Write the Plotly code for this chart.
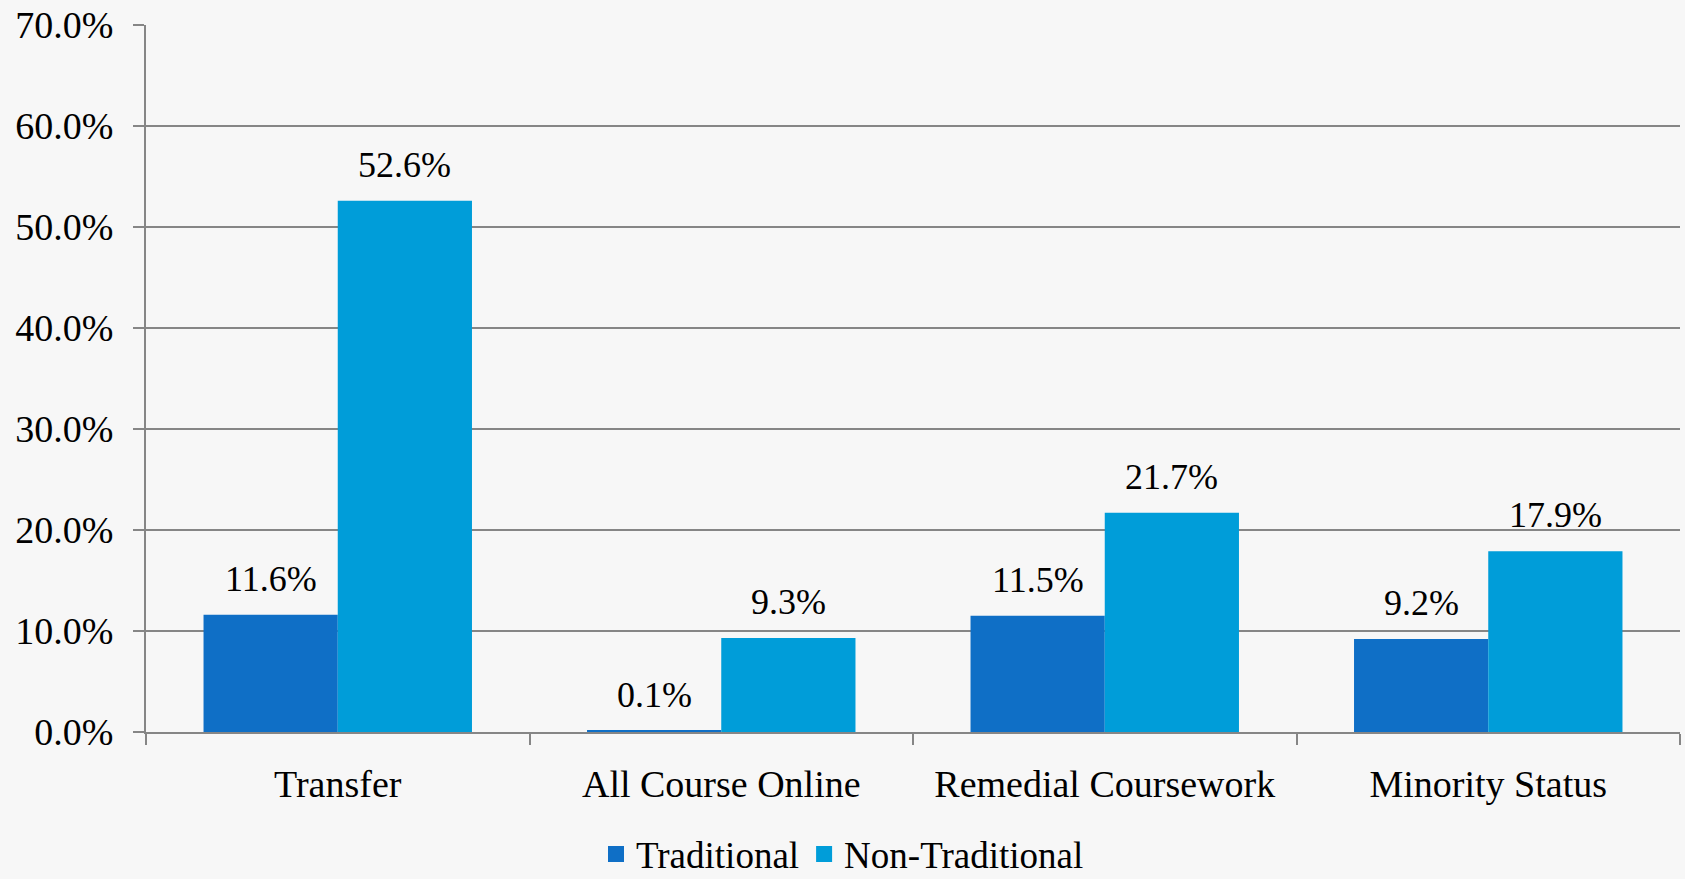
import plotly.graph_objects as go

categories = ["Transfer", "All Course Online", "Remedial Coursework", "Minority Status"]
traditional = [11.6, 0.1, 11.5, 9.2]
non_traditional = [52.6, 9.3, 21.7, 17.9]
y_ticks = [0, 10, 20, 30, 40, 50, 60, 70]
y_tick_labels = ["0.0%", "10.0%", "20.0%", "30.0%", "40.0%", "50.0%", "60.0%", "70.0%"]

FONT = "Liberation Serif"
GRID = "#868686"
C_TRAD = "#0F6FC6"
C_NONTRAD = "#009DD9"

W, H = 1685, 879
L, R, T, B = 146, 5, 25, 147
BARGAP = 0.3

fig = go.Figure()
fig.add_trace(go.Bar(name="Traditional", x=categories, y=traditional,
                     marker=dict(color=C_TRAD, line=dict(width=0)), showlegend=False))
fig.add_trace(go.Bar(name="Non-Traditional", x=categories, y=non_traditional,
                     marker=dict(color=C_NONTRAD, line=dict(width=0)), showlegend=False))

# legend proxies with bigger square swatches
for name, col in [("Traditional", C_TRAD), ("Non-Traditional", C_NONTRAD)]:
    fig.add_trace(go.Scatter(x=[None], y=[None], mode="markers", name=name,
                             marker=dict(symbol="square", size=18, color=col)))

# data labels above each bar
band = (W - L - R) / len(categories)
half_bar = band * (1 - BARGAP) / 4
for vals, sign in [(traditional, -1), (non_traditional, 1)]:
    for c, v in zip(categories, vals):
        fig.add_annotation(x=c, y=v, text=f"{v:.1f}%", showarrow=False,
                           xshift=sign * half_bar, yshift=14, yanchor="bottom",
                           font=dict(family=FONT, size=36, color="black"))

fig.update_layout(
    width=W, height=H,
    barmode="group", bargap=BARGAP, bargroupgap=0,
    paper_bgcolor="#F7F7F7", plot_bgcolor="#F7F7F7",
    font=dict(family=FONT, size=36, color="black"),
    margin=dict(l=L, r=R, t=T, b=B),
    legend=dict(
        orientation="h", xref="container", yref="container",
        x=0.5, xanchor="center", y=0.028, yanchor="middle",
        font=dict(size=37), bgcolor="rgba(0,0,0,0)", tracegroupgap=0,
    ),
)
fig.update_yaxes(
    range=[0, 70], tickvals=y_ticks, ticktext=y_tick_labels,
    tickfont=dict(size=38),
    showgrid=True, gridcolor=GRID, gridwidth=2,
    showline=True, linecolor=GRID, linewidth=2,
    ticks="outside", ticklen=11, tickcolor=GRID, tickwidth=2,
    ticklabelstandoff=12, zeroline=False,
)
fig.update_xaxes(
    tickfont=dict(size=38),
    showline=True, linecolor=GRID, linewidth=2,
    ticks="outside", ticklen=11, tickcolor=GRID, tickwidth=2,
    tickson="boundaries", ticklabelstandoff=17, showgrid=False,
)

fig.write_html("out.html", config={"displayModeBar": False},
               post_script="document.body.style.margin='0';")
